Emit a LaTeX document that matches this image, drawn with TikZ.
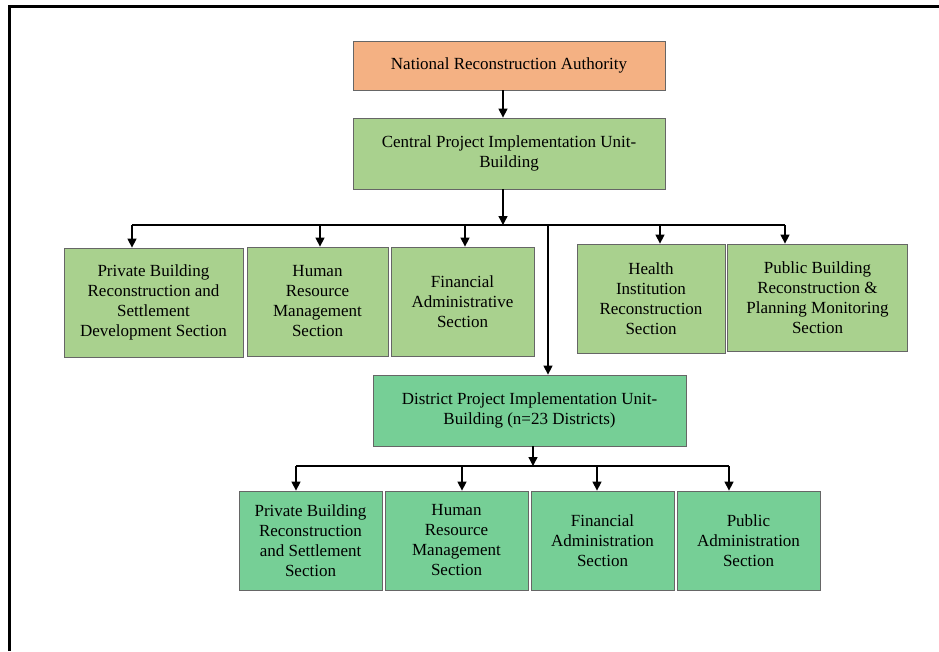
\documentclass[tikz,border=0pt]{standalone}
\usepackage{fontspec}
\setmainfont{Liberation Serif}
\usetikzlibrary{arrows.meta}
\definecolor{nraorange}{HTML}{F4B183}
\definecolor{centralgreen}{HTML}{A9D18E}
\definecolor{districtgreen}{HTML}{76CF96}
\begin{document}
\begin{tikzpicture}[x=1pt,y=-1pt,
    unit/.style={draw=black!60, line width=0.8pt, align=center, inner sep=2pt,
      font=\fontsize{17}{20}\selectfont},
    link/.style={line width=1.4pt, -{Triangle[width=9pt,length=9pt]}},
    bus/.style={line width=1.4pt}]
  \useasboundingbox (0,0) rectangle (939,651);
  \draw[line width=3pt] (9,651) -- (9,6) -- (939,6);

  % top levels
  \node[unit, fill=nraorange, minimum width=312pt, minimum height=49pt] (nra) at (509,65.5) {National Reconstruction Authority};
  \node[unit, fill=centralgreen, minimum width=312pt, minimum height=71pt] (cpiu) at (509,153.5) {Central Project Implementation Unit-\\Building};

  % central sections
  \node[unit, fill=centralgreen, minimum width=179pt, minimum height=109pt] (b1) at (153.5,302.5) {Private Building\\Reconstruction and\\Settlement\\Development Section};
  \node[unit, fill=centralgreen, minimum width=141pt, minimum height=109pt] (b2) at (317.5,301.5) {Human\\Resource\\Management\\Section};
  \node[unit, fill=centralgreen, minimum width=143pt, minimum height=109pt] (b3) at (462.5,301.5) {Financial\\Administrative\\Section};
  \node[unit, fill=centralgreen, minimum width=148pt, minimum height=109pt] (b4) at (651,298.5) {Health\\Institution\\Reconstruction\\Section};
  \node[unit, fill=centralgreen, minimum width=180pt, minimum height=107pt] (b5) at (817.5,297.5) {Public Building\\Reconstruction \&\\Planning Monitoring\\Section};

  % district level
  \node[unit, fill=districtgreen, minimum width=313pt, minimum height=71pt] (dpiu) at (529.5,410.5) {District Project Implementation Unit-\\Building (n=23 Districts)};
  \node[unit, fill=districtgreen, minimum width=143pt, minimum height=99pt] (c1) at (310.5,540.5) {Private Building\\Reconstruction\\and Settlement\\Section};
  \node[unit, fill=districtgreen, minimum width=143pt, minimum height=99pt] (c2) at (456.5,540.5) {Human\\Resource\\Management\\Section};
  \node[unit, fill=districtgreen, minimum width=143pt, minimum height=99pt] (c3) at (602.5,540.5) {Financial\\Administration\\Section};
  \node[unit, fill=districtgreen, minimum width=143pt, minimum height=99pt] (c4) at (748.5,540.5) {Public\\Administration\\Section};

  % connectors
  \coordinate (hub) at (503,225);
  \coordinate (drop) at (548,225);
  \coordinate (hub2) at (533,466);
  \draw[link] ([xshift=-6pt]nra.south) -- ([xshift=-6pt]cpiu.north);
  \draw[link] ([xshift=-6pt]cpiu.south) -- (hub);
  \draw[bus] (132,225) -- (785,225);
  \foreach \x/\n in {132/b1,320/b2,465/b3,660/b4,785/b5} {
    \coordinate (t\n) at (\x,225);
    \draw[link] (t\n) -- (t\n |- \n.north);
  }
  \draw[link] (drop) -- (drop |- dpiu.north);
  \draw[link] (hub2 |- dpiu.south) -- (hub2);
  \draw[bus] (296,466) -- (729,466);
  \foreach \x/\n in {296/c1,462/c2,597/c3,729/c4} {
    \coordinate (t\n) at (\x,466);
    \draw[link] (t\n) -- (t\n |- \n.north);
  }
\end{tikzpicture}
\end{document}
